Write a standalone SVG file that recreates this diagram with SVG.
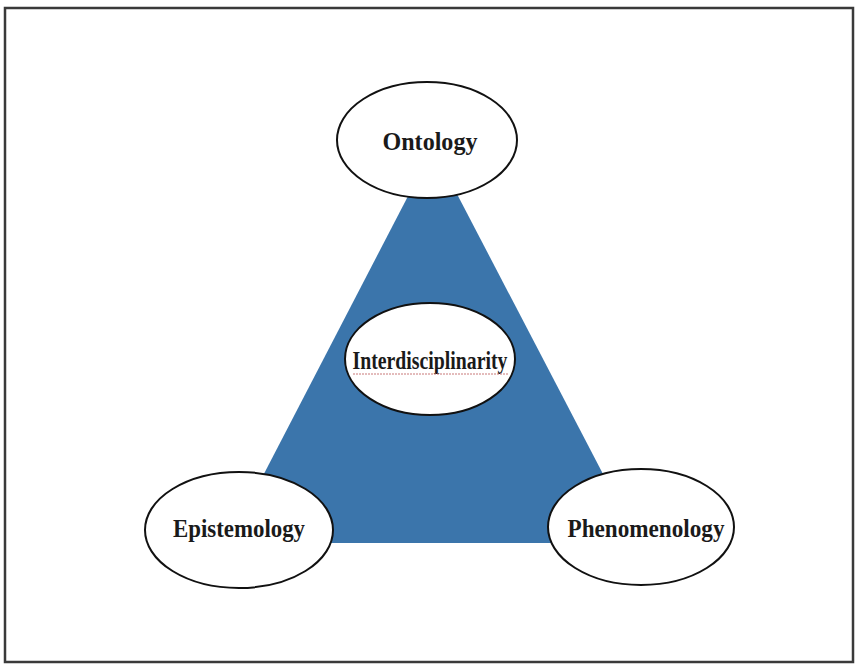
<svg xmlns="http://www.w3.org/2000/svg" width="856" height="664" viewBox="0 0 856 664">
  <style>
    .node ellipse { fill: #ffffff; stroke: #111111; stroke-width: 2; }
    .label { font-family: "Liberation Serif", "DejaVu Serif", serif; font-weight: bold; font-size: 25px; fill: #1a1a1a; text-anchor: middle; }
  </style>
  <rect x="0" y="0" width="856" height="664" fill="#ffffff"/>
  <!-- outer frame -->
  <rect x="5" y="8" width="848" height="654" fill="none" stroke="#3a3a3a" stroke-width="2.5"/>

  <!-- connectors: the triangle joining the three outer concepts -->
  <g id="connectors">
    <polygon points="433,148 228,543 639,543" fill="#3b75ab"/>
  </g>

  <g id="ontology" class="node">
    <ellipse cx="427" cy="140" rx="90" ry="58"/>
    <text class="label" x="430" y="150" textLength="95" lengthAdjust="spacingAndGlyphs">Ontology</text>
  </g>

  <g id="interdisciplinarity" class="node">
    <ellipse cx="430" cy="359" rx="85" ry="56"/>
    <text class="label" font-size="23" x="430" y="369" textLength="155" lengthAdjust="spacingAndGlyphs">Interdisciplinarity</text>
    <line x1="353" y1="374" x2="508" y2="374" stroke="#c87878" stroke-width="1" stroke-dasharray="2 1"/>
  </g>

  <g id="epistemology" class="node">
    <ellipse cx="239" cy="530" rx="94" ry="58"/>
    <text class="label" x="239" y="537" textLength="132" lengthAdjust="spacingAndGlyphs">Epistemology</text>
  </g>

  <g id="phenomenology" class="node">
    <ellipse cx="641" cy="527" rx="93" ry="58"/>
    <text class="label" x="646" y="537" textLength="157" lengthAdjust="spacingAndGlyphs">Phenomenology</text>
  </g>
</svg>
